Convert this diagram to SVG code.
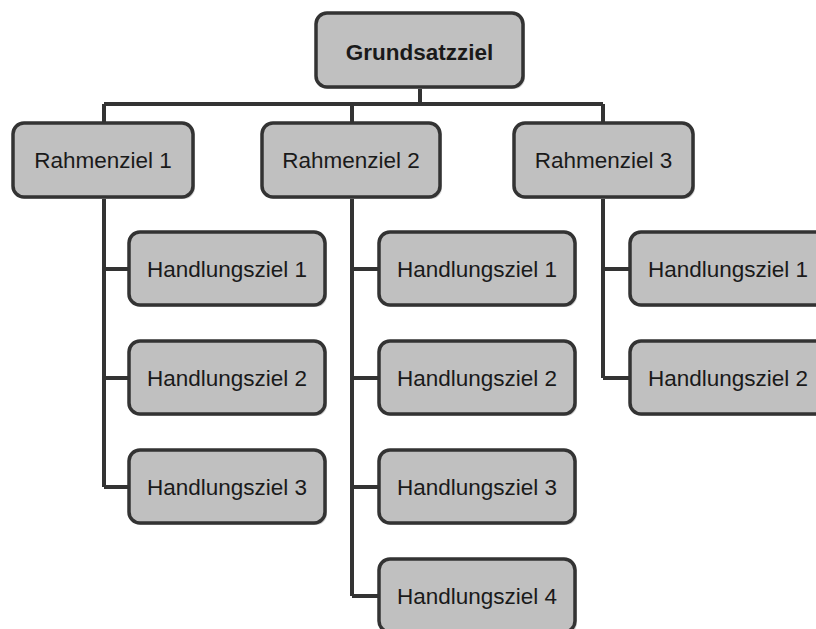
<svg xmlns="http://www.w3.org/2000/svg" width="816" height="629" viewBox="0 0 816 629">
<style>
.box{fill:#c0c0c0;stroke:#333;stroke-width:3.5}
.sh{fill:#d4d4d4}
.t{font-family:"Liberation Sans",Arial,sans-serif;font-size:22.5px;fill:#1a1a1a;text-anchor:middle}
.b{font-weight:bold}
.c{fill:none;stroke:#333;stroke-width:4}
</style>
<rect width="816" height="629" fill="#fff"/>
<g id="connectors">
<path class="c" d="M420 87V104M104 104H603M104 104V123M352 104V123M603 104V123"/>
<path class="c" d="M104 197V487M104 269H129M104 378H129M104 487H129"/>
<path class="c" d="M352 197V596M352 269H379M352 378H379M352 487H379M352 596H379"/>
<path class="c" d="M603 197V378M603 269H630M603 378H630"/>
</g>
<g id="grundsatzziel"><rect class="sh" x="318" y="15" width="207" height="74" rx="11"/><rect class="box" x="316" y="13" width="207" height="74" rx="11"/><text class="t b" x="419.5" y="60">Grundsatzziel</text></g>
<g id="rahmenziel1"><rect class="sh" x="15" y="125" width="180" height="74" rx="11"/><rect class="box" x="13" y="123" width="180" height="74" rx="11"/><text class="t" x="103" y="168">Rahmenziel 1</text></g>
<g id="rahmenziel2"><rect class="sh" x="264" y="125" width="178" height="74" rx="11"/><rect class="box" x="262" y="123" width="178" height="74" rx="11"/><text class="t" x="351" y="168">Rahmenziel 2</text></g>
<g id="rahmenziel3"><rect class="sh" x="516" y="125" width="179" height="74" rx="11"/><rect class="box" x="514" y="123" width="179" height="74" rx="11"/><text class="t" x="603.5" y="168">Rahmenziel 3</text></g>
<g id="h1-1"><rect class="sh" x="131" y="234" width="196" height="73" rx="11"/><rect class="box" x="129" y="232" width="196" height="73" rx="11"/><text class="t" x="227" y="277">Handlungsziel 1</text></g>
<g id="h1-2"><rect class="sh" x="131" y="343" width="196" height="73" rx="11"/><rect class="box" x="129" y="341" width="196" height="73" rx="11"/><text class="t" x="227" y="386">Handlungsziel 2</text></g>
<g id="h1-3"><rect class="sh" x="131" y="452" width="196" height="73" rx="11"/><rect class="box" x="129" y="450" width="196" height="73" rx="11"/><text class="t" x="227" y="495">Handlungsziel 3</text></g>
<g id="h2-1"><rect class="sh" x="381" y="234" width="196" height="73" rx="11"/><rect class="box" x="379" y="232" width="196" height="73" rx="11"/><text class="t" x="477" y="277">Handlungsziel 1</text></g>
<g id="h2-2"><rect class="sh" x="381" y="343" width="196" height="73" rx="11"/><rect class="box" x="379" y="341" width="196" height="73" rx="11"/><text class="t" x="477" y="386">Handlungsziel 2</text></g>
<g id="h2-3"><rect class="sh" x="381" y="452" width="196" height="73" rx="11"/><rect class="box" x="379" y="450" width="196" height="73" rx="11"/><text class="t" x="477" y="495">Handlungsziel 3</text></g>
<g id="h2-4"><rect class="sh" x="381" y="561" width="196" height="73" rx="11"/><rect class="box" x="379" y="559" width="196" height="73" rx="11"/><text class="t" x="477" y="604">Handlungsziel 4</text></g>
<g id="h3-1"><rect class="sh" x="632" y="234" width="196" height="73" rx="11"/><rect class="box" x="630" y="232" width="196" height="73" rx="11"/><text class="t" x="728" y="277">Handlungsziel 1</text></g>
<g id="h3-2"><rect class="sh" x="632" y="343" width="196" height="73" rx="11"/><rect class="box" x="630" y="341" width="196" height="73" rx="11"/><text class="t" x="728" y="386">Handlungsziel 2</text></g>
</svg>
